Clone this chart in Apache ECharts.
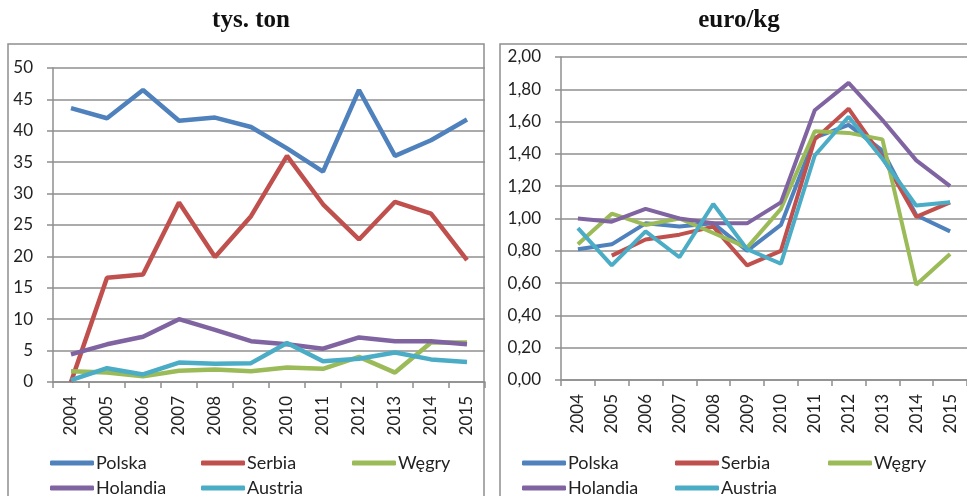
<!DOCTYPE html>
<html>
<head>
<meta charset="utf-8">
<script src="https://cdn.jsdelivr.net/npm/echarts@6/dist/echarts.min.js"></script>
<style>
  html, body { margin: 0; padding: 0; background: #fff; }
  #main { width: 967px; height: 496px; }
</style>
</head>
<body>
<div id="main"></div>
<script>
const years = ['2004', '2005', '2006', '2007', '2008', '2009', '2010', '2011', '2012', '2013', '2014', '2015']
const countries = ['Polska', 'Serbia', 'Węgry', 'Holandia', 'Austria']
const colors = ['#4F81BD', '#C0504D', '#9BBB59', '#8064A2', '#4BACC6']

// tys. ton
const volPolska   = [43.6, 42.0, 46.5, 41.6, 42.1, 40.6, 37.2, 33.5, 46.5, 36.0, 38.5, 41.8]
const volSerbia   = [0.0, 16.6, 17.1, 28.6, 19.9, 26.4, 36.0, 28.3, 22.7, 28.7, 26.8, 19.4]
const volWegry    = [1.7, 1.5, 0.9, 1.8, 2.0, 1.7, 2.3, 2.1, 4.0, 1.5, 6.3, 6.3]
const volHolandia = [4.4, 6.0, 7.2, 10.0, 8.3, 6.5, 6.0, 5.3, 7.1, 6.5, 6.5, 6.0]
const volAustria  = [0.3, 2.2, 1.2, 3.1, 2.9, 3.0, 6.2, 3.3, 3.7, 4.7, 3.6, 3.2]

// euro/kg
const prPolska   = [0.81, 0.84, 0.97, 0.95, 0.97, 0.80, 0.96, 1.50, 1.58, 1.42, 1.02, 0.92]
const prSerbia   = ['-', 0.77, 0.87, 0.90, 0.95, 0.71, 0.80, 1.49, 1.68, 1.38, 1.01, 1.10]
const prWegry    = [0.84, 1.03, 0.96, 1.00, 0.91, 0.82, 1.06, 1.54, 1.53, 1.49, 0.59, 0.78]
const prHolandia = [1.00, 0.98, 1.06, 1.00, 0.97, 0.97, 1.10, 1.67, 1.84, 1.61, 1.36, 1.20]
const prAustria  = [0.94, 0.71, 0.92, 0.76, 1.09, 0.81, 0.72, 1.39, 1.63, 1.37, 1.08, 1.10]

const volData = [volPolska, volSerbia, volWegry, volHolandia, volAustria]
const prData = [prPolska, prSerbia, prWegry, prHolandia, prAustria]

const FONT = 'Lato, "Liberation Sans", sans-serif'
const GRAY = '#8f8f8f'

var myChart = echarts.init(document.getElementById('main'))

const xAxisOf = (gridIndex) => ({
  type: 'category',
  gridIndex: gridIndex,
  data: years,
  boundaryGap: true,
  axisLine: { lineStyle: { color: GRAY, width: 1.5 } },
  axisTick: { show: true, length: 6, lineStyle: { color: GRAY, width: 1.5 } },
  axisLabel: { rotate: 90, margin: 14, color: '#222', fontFamily: FONT, fontSize: 17 }
})

const yAxisOf = (gridIndex, max, interval, fmt) => ({
  type: 'value',
  gridIndex: gridIndex,
  min: 0,
  max: max,
  interval: interval,
  axisLine: { show: true, lineStyle: { color: GRAY, width: 1.5 } },
  axisTick: { show: true, length: 6, lineStyle: { color: GRAY, width: 1.5 } },
  splitLine: { lineStyle: { color: GRAY, width: 1.5 } },
  axisLabel: { margin: 20, color: '#222', fontFamily: FONT, fontSize: 17, formatter: fmt }
})

// one legend per item, laid out in 3 columns x 2 rows like Excel does
const legendItem = (name, left, top) => ({
  data: [name],
  left: left,
  top: top,
  icon: 'roundRect',
  itemWidth: 44,
  itemHeight: 5,
  selectedMode: false,
  textStyle: { fontFamily: FONT, fontSize: 18, color: '#222', padding: [0, 0, 0, -3] }
})

const legendsFor = (x0, step) => countries.map((name, i) =>
  legendItem(name, x0 + (i % 3) * step, i < 3 ? 449 : 474))

const series = []
countries.forEach((name, i) => {
  series.push({
    name: name, type: 'line', xAxisIndex: 0, yAxisIndex: 0,
    data: volData[i], symbol: 'none', z: 2 + i,
    lineStyle: { color: colors[i], width: 4.5 }, itemStyle: { color: colors[i] }
  })
  series.push({
    name: name, type: 'line', xAxisIndex: 1, yAxisIndex: 1,
    data: prData[i], symbol: 'none', z: 2 + i,
    lineStyle: { color: colors[i], width: 4 }, itemStyle: { color: colors[i] }
  })
})

var option = {
  animation: false,
  backgroundColor: '#fff',
  title: [
    { text: 'tys. ton', left: 246, top: 3, textAlign: 'center',
      textStyle: { fontFamily: '"Liberation Serif", serif', fontWeight: 'bold', fontSize: 25, color: '#111' } },
    { text: 'euro/kg', left: 734, top: 3, textAlign: 'center',
      textStyle: { fontFamily: '"Liberation Serif", serif', fontWeight: 'bold', fontSize: 25, color: '#111' } }
  ],
  graphic: [
    { type: 'rect', shape: { x: 8, y: 44, width: 476, height: 480 }, style: { fill: 'none', stroke: GRAY, lineWidth: 1.5 }, z: 0 },
    { type: 'rect', shape: { x: 500, y: 44, width: 500, height: 480 }, style: { fill: 'none', stroke: GRAY, lineWidth: 1.5 }, z: 0 }
  ],
  legend: legendsFor(45, 151).concat(legendsFor(517, 153)),
  grid: [
    { left: 53, top: 68, width: 432, height: 314 },
    { left: 561, top: 57, width: 414, height: 323 }
  ],
  xAxis: [xAxisOf(0), xAxisOf(1)],
  yAxis: [
    yAxisOf(0, 50, 5, (v) => String(v)),
    yAxisOf(1, 2, 0.2, (v) => v.toFixed(2).replace('.', ','))
  ],
  series: series
}

myChart.setOption(option)
window.addEventListener('resize', () => {
  myChart.resize()
})
</script>
</body>
</html>
